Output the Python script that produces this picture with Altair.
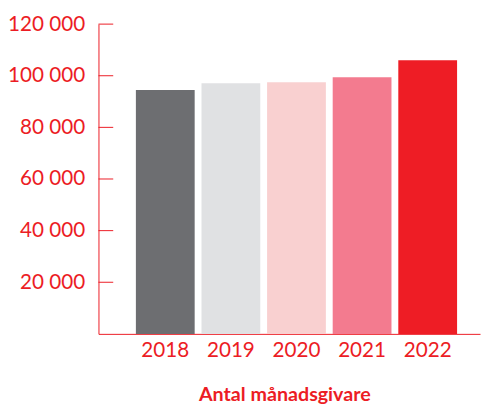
import altair as alt
import pandas as pd

years = ["2018", "2019", "2020", "2021", "2022"]
values = [94500, 97100, 97500, 99400, 106000]
colors = ["#6d6e71", "#e0e1e3", "#f9d0d0", "#f37b8f", "#ee1d25"]
y_ticks = [20000, 40000, 60000, 80000, 100000, 120000]
x_title = "Antal månadsgivare"

RED = "#ec1c24"
FONT = "Lato"

df = pd.DataFrame({"year": years, "value": values})
tick_df = pd.DataFrame({"tick": y_ticks})

yscale = alt.Scale(domain=[0, 120000], nice=False, zero=True)

bars = alt.Chart(df).mark_bar().encode(
    x=alt.X(
        "year:N",
        sort=years,
        scale=alt.Scale(paddingInner=0.104, paddingOuter=0.46, align=0.62),
        axis=alt.Axis(
            title=x_title,
            labelAngle=0,
            ticks=False,
            labelPadding=6,
            labelFontSize=21,
            titleFontSize=20,
            titleFontWeight="bold",
            titlePadding=25,
            titleX=189,
        ),
    ),
    y=alt.Y(
        "value:Q",
        scale=yscale,
        axis=alt.Axis(
            title=None,
            values=y_ticks,
            ticks=False,
            grid=False,
            labelPadding=14,
            labelFontSize=21,
            labelExpr="replace(format(datum.value, ','), ',', ' ')",
        ),
    ),
    color=alt.Color("year:N", scale=alt.Scale(domain=years, range=colors), legend=None),
)

ticks = alt.Chart(tick_df).mark_rule(color=RED, strokeWidth=1).encode(
    y=alt.Y("tick:Q", scale=yscale),
    x=alt.value(0),
    x2=alt.value(15),
)

chart = (
    alt.layer(bars, ticks)
    .properties(
        width=388,
        height=315,
        autosize=alt.AutoSizeParams(type="none"),
        padding={"left": 92, "top": 13, "right": 1, "bottom": 73},
        background="white",
    )
    .configure_view(stroke=None)
    .configure_axis(
        labelFont=FONT,
        titleFont=FONT,
        labelColor=RED,
        titleColor=RED,
        domainColor=RED,
        domainWidth=1,
        grid=False,
    )
)

chart.save("out.html", embed_options={"renderer": "svg", "actions": False})
